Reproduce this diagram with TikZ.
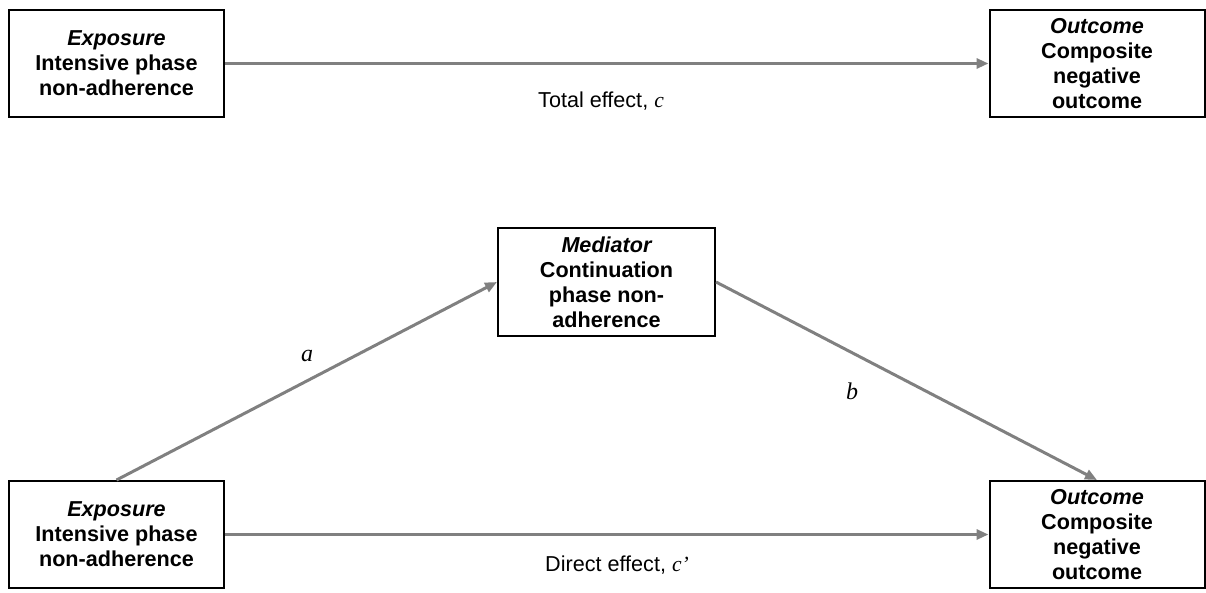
\documentclass[tikz,border=0pt]{standalone}
\usepackage{fontspec}
\setmainfont{Liberation Sans}
\newfontfamily\serifit{Liberation Serif}
\usetikzlibrary{arrows.meta}
\definecolor{arrowgray}{RGB}{128,128,128}
\tikzset{
  varbox/.style={draw=black, line width=2pt, minimum width=215pt, minimum height=107pt,
    align=center, inner sep=0pt, font=\fontsize{21.6}{25}\selectfont\bfseries},
  conn/.style={draw=arrowgray, line width=3pt, -{Triangle[length=12pt,width=10pt]}},
  lbl/.style={font=\fontsize{21.6}{25}\selectfont},
  coef/.style={font=\fontsize{24}{25}\selectfont\serifit\itshape}
}
\begin{document}
\begin{tikzpicture}[x=1pt,y=-1pt]
\useasboundingbox (0,0) rectangle (1206,592);
\node[varbox] (e1) at (116.5,63.5) {\itshape Exposure\\Intensive phase\\non-adherence};
\node[varbox] (o1) at (1097,63.5) {\itshape Outcome\\Composite\\negative\\outcome};
\node[varbox, minimum width=217pt, minimum height=108pt] (m) at (606.5,282) {\itshape Mediator\\Continuation\\phase non-\\adherence};
\node[varbox] (e2) at (116.5,534.5) {\itshape Exposure\\Intensive phase\\non-adherence};
\node[varbox] (o2) at (1097,534.5) {\itshape Outcome\\Composite\\negative\\outcome};
\draw[conn] (e1) -- (o1);
\draw[conn] (e2) -- (o2);
\draw[conn] (e2.north) -- (m.west);
\draw[conn] (m.east) -- (o2.north);
\node[lbl] (tl) at (601,101) {Total effect, {\serifit\itshape c}};
\node[lbl] (dl) at (617,565) {Direct effect, {\serifit\itshape c’}};
\node[coef] (la) at (307,356) {a};
\node[coef] (lb) at (852,391) {b};
\end{tikzpicture}
\end{document}
